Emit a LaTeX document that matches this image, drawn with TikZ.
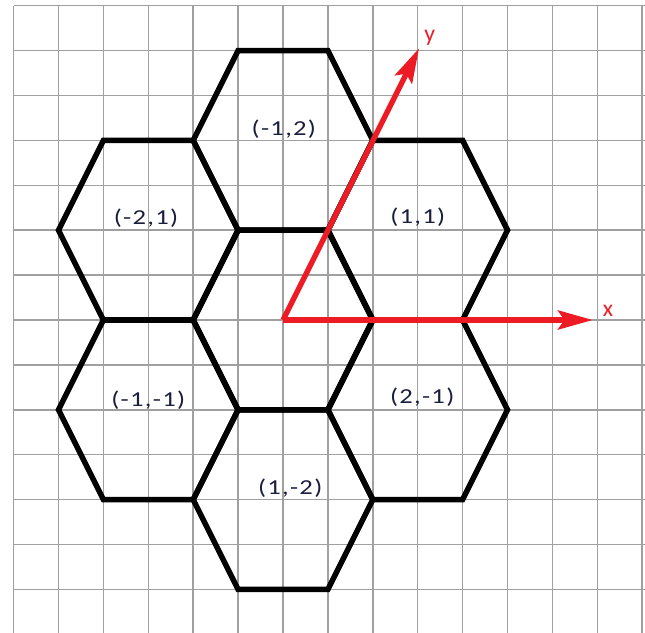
\documentclass[tikz,border=0pt]{standalone}
\usepackage{fontspec}
\setmainfont{Carlito}
\newfontfamily\cellfont[FakeStretch=1.25, LetterSpace=6]{Carlito}
\usetikzlibrary{arrows.meta}
\definecolor{paintred}{RGB}{237,28,36}
\definecolor{gridgray}{RGB}{160,160,160}
\definecolor{labelink}{RGB}{25,30,60}

\begin{document}
\begin{tikzpicture}[>={Stealth[length=22pt, width=12pt, inset=4pt]},
    gridline/.style={gridgray, line width=1pt},
    hexline/.style={black, line width=3.5pt},
    axis/.style={->, paintred, line width=3.4pt},
    celllabel/.style={text=labelink, font=\cellfont\fontsize{13.5}{16}\selectfont},
    axislabel/.style={text=paintred, font=\fontsize{15}{18}\selectfont}]

    % Page and squared paper
    \useasboundingbox (-6.303,-6.949) rectangle (8.062,7.127);
    \clip (-6.303,-6.949) rectangle (8.062,7.127);
    \draw[gridline] (-6,-7.5) grid (8.5,7);

    % Hexagons, centre one first
    \draw[hexline] (2,0) -- (1,2) -- (-1,2) -- (-2,0) -- (-1,-2) -- (1,-2) -- cycle;
    \draw[hexline, shift={(0,4)}] (2,0) -- (1,2) -- (-1,2) -- (-2,0) -- (-1,-2) -- (1,-2) -- cycle;
    \draw[hexline, shift={(3,2)}] (2,0) -- (1,2) -- (-1,2) -- (-2,0) -- (-1,-2) -- (1,-2) -- cycle;
    \draw[hexline, shift={(-3,2)}] (2,0) -- (1,2) -- (-1,2) -- (-2,0) -- (-1,-2) -- (1,-2) -- cycle;
    \draw[hexline, shift={(-3,-2)}] (2,0) -- (1,2) -- (-1,2) -- (-2,0) -- (-1,-2) -- (1,-2) -- cycle;
    \draw[hexline, shift={(3,-2)}] (2,0) -- (1,2) -- (-1,2) -- (-2,0) -- (-1,-2) -- (1,-2) -- cycle;
    \draw[hexline, shift={(0,-4)}] (2,0) -- (1,2) -- (-1,2) -- (-2,0) -- (-1,-2) -- (1,-2) -- cycle;

    % Cell labels
    \node[celllabel] (top) at (0.02,4.24) {(-1,2)};
    \node[celllabel] (upleft) at (-3.05,2.26) {(-2,1)};
    \node[celllabel] (upright) at (3,2.28) {(1,1)};
    \node[celllabel] (lowleft) at (-3,-1.78) {(-1,-1)};
    \node[celllabel] (lowright) at (3.1,-1.73) {(2,-1)};
    \node[celllabel] (bottom) at (0.16,-3.74) {(1,-2)};

    % Axes (red, drawn on top)
    \coordinate (o) at (0,0);
    \coordinate (xtip) at (6.9,0);
    \coordinate (ytip) at (3.03,6.05);
    \draw[axis] (o) -- (xtip);
    \draw[axis] (o) -- (ytip);
    \node[axislabel] (xlab) at (7.24,0.2) {x};
    \node[axislabel] (ylab) at (3.27,6.28) {y};

\end{tikzpicture}
\end{document}
